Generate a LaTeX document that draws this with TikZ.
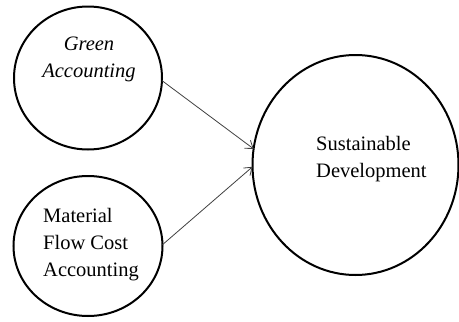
\documentclass[tikz,border=0pt]{standalone}
\usepackage{fontspec}
\setmainfont{Liberation Serif}
\usetikzlibrary{shapes.geometric,arrows.meta}
\begin{document}
\begin{tikzpicture}[x=1pt,y=-1pt,
  bubble/.style={ellipse,draw,line width=2pt,inner sep=0pt,outer sep=0pt},
  lbl/.style={font=\fontsize{20.5}{27}\selectfont,inner sep=0pt,anchor=base},
  link/.style={draw=black!75,line width=0.8pt,-{Straight Barb[length=7pt,width=10pt]}}]
\useasboundingbox (0,0) rectangle (459,322);
\node[bubble,minimum width=148pt,minimum height=143pt] (ga) at (88,78) {};
\node[bubble,minimum width=149pt,minimum height=140pt] (mf) at (88,246) {};
\node[bubble,minimum width=206pt,minimum height=220pt] (sd) at (355.5,165) {};
\node[lbl,align=center] (gat) at (89,77) {\itshape Green\\\itshape Accounting};
\node[lbl,align=left,anchor=base west] (mft) at (43,276) {Material\\Flow Cost\\Accounting};
\node[lbl,align=left,anchor=base west] (sdt) at (316,177) {Sustainable\\Development};
\draw[link] (ga.-2) -- (sd.171.8);
\draw[link] (mf.1) -- (sd.181.6);
\end{tikzpicture}
\end{document}
